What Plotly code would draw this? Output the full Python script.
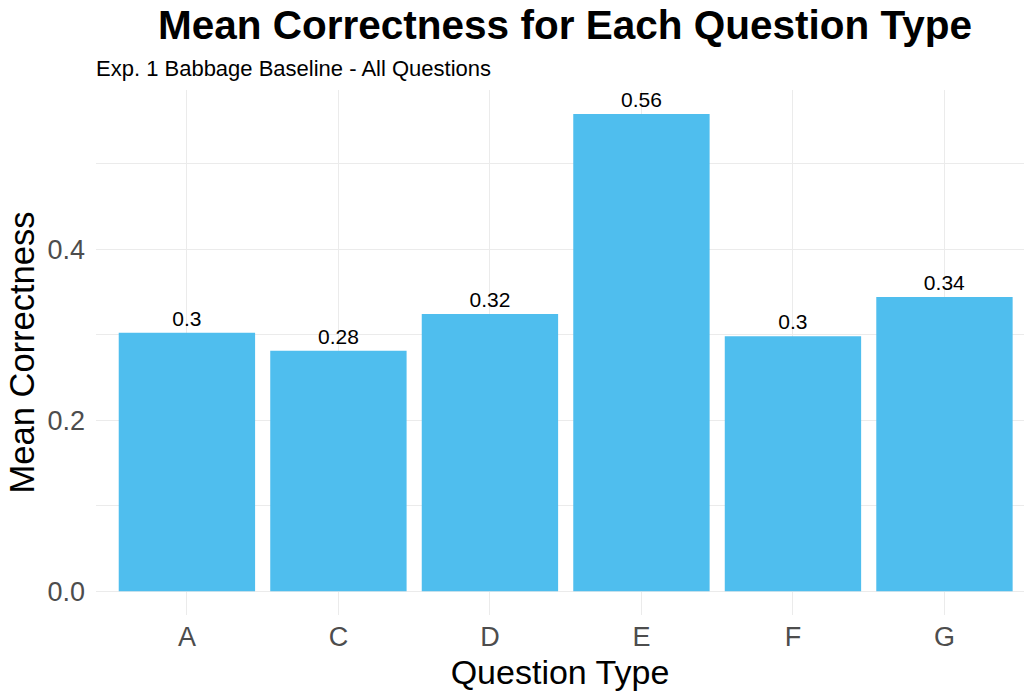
import plotly.graph_objects as go

# Mean correctness per question type
question_types = ["A", "C", "D", "E", "F", "G"]
mean_correctness = [0.302, 0.281, 0.324, 0.558, 0.298, 0.344]
y_tick_vals = [0.0, 0.2, 0.4]
y_tick_text = ["0.0", "0.2", "0.4"]

bar_labels = [f"{round(v, 2):g}" for v in mean_correctness]

FONT = "Liberation Sans, Arial, sans-serif"
GRID = "#EBEBEB"

# plot panel spans y = 90..615 px in a 695 px tall figure
PANEL_TOP, PANEL_BOTTOM = 90, 615
PANEL_H = PANEL_BOTTOM - PANEL_TOP

fig = go.Figure(
    go.Bar(
        x=question_types,
        y=mean_correctness,
        width=0.9,
        marker=dict(color="#4FBEEE", line=dict(width=0)),
        text=bar_labels,
        textposition="outside",
        textfont=dict(family=FONT, size=21, color="black"),
        cliponaxis=False,
    )
)

fig.update_layout(
    width=1024,
    height=695,
    margin=dict(l=96, r=0, t=PANEL_TOP, b=695 - PANEL_BOTTOM),
    paper_bgcolor="white",
    plot_bgcolor="white",
    showlegend=False,
    font=dict(family=FONT),
    title=dict(
        text="<b>Mean Correctness for Each Question Type</b>",
        font=dict(family=FONT, size=40.5, color="black"),
        x=565 / 1024,
        xanchor="center",
        xref="container",
        y=1 - 25 / 695,
        yanchor="middle",
        yref="container",
    ),
    annotations=[
        dict(
            text="Exp. 1 Babbage Baseline - All Questions",
            x=0,
            xref="paper",
            xanchor="left",
            xshift=-2,
            y=(PANEL_BOTTOM - 69) / PANEL_H,
            yref="paper",
            yanchor="middle",
            showarrow=False,
            font=dict(family=FONT, size=22, color="black"),
        )
    ],
)

fig.update_xaxes(
    range=[-0.6, 5.525],
    showgrid=True,
    gridcolor=GRID,
    gridwidth=1,
    showline=False,
    zeroline=False,
    ticks="",
    ticklabelstandoff=3,
    tickfont=dict(family=FONT, size=27, color="#4D4D4D"),
    title=dict(text="Question Type", font=dict(family=FONT, size=34, color="black"), standoff=9),
)

fig.update_yaxes(
    range=[-0.0279, 0.586],
    tickvals=y_tick_vals,
    ticktext=y_tick_text,
    showgrid=True,
    gridcolor=GRID,
    gridwidth=1,
    minor=dict(tickvals=[0.1, 0.3, 0.5], showgrid=True, gridcolor=GRID, gridwidth=0.6),
    zeroline=False,
    showline=False,
    ticks="",
    ticklabelstandoff=10,
    tickfont=dict(family=FONT, size=27, color="#4D4D4D"),
    title=dict(text="Mean Correctness", font=dict(family=FONT, size=34.5, color="black"), standoff=2),
)

fig.write_html("out.html")
